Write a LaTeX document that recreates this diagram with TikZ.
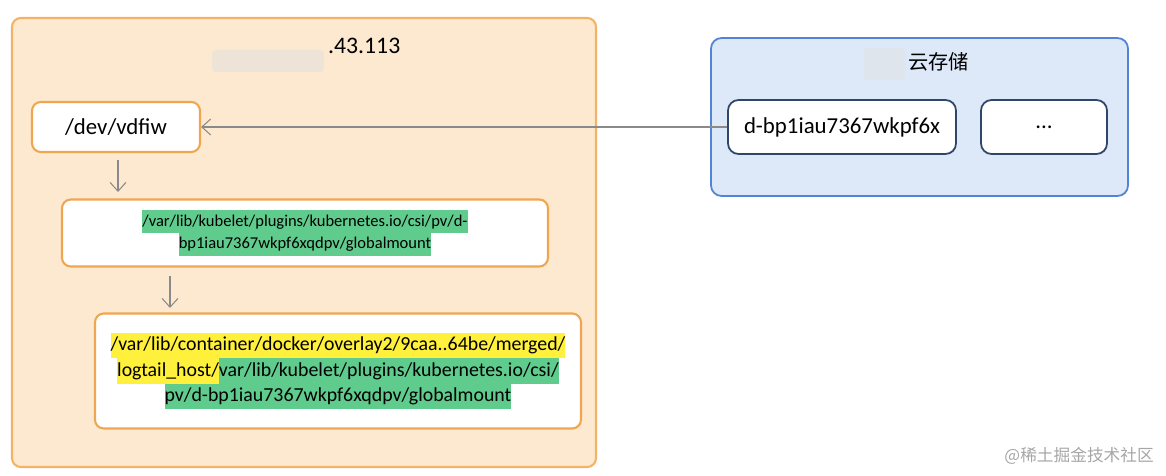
\documentclass[tikz,border=0pt]{standalone}
\usepackage{fontspec}
\setmainfont{Carlito}
\newfontfamily\cjk{Noto Sans CJK SC}
\usetikzlibrary{arrows.meta,positioning}
\definecolor{hostfill}{HTML}{FDE9D0}
\definecolor{hostline}{HTML}{F3B266}
\definecolor{pathline}{HTML}{F0A650}
\definecolor{cloudfill}{HTML}{DDE8F8}
\definecolor{cloudline}{HTML}{4F84D6}
\definecolor{diskline}{HTML}{2E4668}
\definecolor{pathgreen}{HTML}{5FCB8C}
\definecolor{pathyellow}{HTML}{FFF03C}
\definecolor{linkgray}{HTML}{8A8A8A}
\definecolor{blurpatch}{HTML}{EDE3D6}
\newcommand{\hlg}[1]{{\setlength{\fboxsep}{0pt}\colorbox{pathgreen}{\strut #1}}}
\newcommand{\hly}[1]{{\setlength{\fboxsep}{0pt}\colorbox{pathyellow}{\strut #1}}}

\begin{document}
\begin{tikzpicture}[x=0.02cm,y=-0.02cm,>={Straight Barb[length=5pt,width=9pt]}]
\tikzset{
  hostbox/.style={draw=hostline,fill=hostfill,line width=1.2pt,rounded corners=5pt},
  cloudbox/.style={draw=cloudline,fill=cloudfill,line width=1pt,rounded corners=6pt},
  pathbox/.style={draw=pathline,fill=white,line width=1.2pt,rounded corners=5pt,align=center,inner sep=0pt},
  diskbox/.style={draw=diskline,fill=white,line width=1pt,rounded corners=6pt,inner sep=0pt,font=\fontsize{13}{15}\selectfont},
  link/.style={->,draw=linkgray,line width=0.6pt}
}
\useasboundingbox (0,0) rectangle (1166,476);
% host
\draw[hostbox] (12,18) rectangle (596,467);
\fill[blurpatch,rounded corners=2pt] (212,50) rectangle (324,72);
\node[anchor=west,font=\fontsize{13.5}{16}\selectfont] (hostname) at (322,46) {.43.113};
\node[pathbox,minimum width=168*0.02cm,minimum height=50*0.02cm,font=\fontsize{13}{15}\selectfont] (dev) at (116,127) {/dev/vdfiw};
\node[pathbox,minimum width=486*0.02cm,minimum height=67*0.02cm,font=\fontsize{9.4}{13}\selectfont] (global) at (305,233)
  {\hlg{/var/lib/kubelet/plugins/kubernetes.io/csi/pv/d-}\\ \hlg{bp1iau7367wkpf6xqdpv/globalmount}};
\node[pathbox,minimum width=486*0.02cm,minimum height=115*0.02cm,font=\fontsize{11.3}{14.5}\selectfont] (merged) at (338,371)
  {\hly{/var/lib/container/docker/overlay2/9caa..64be/merged/}\\
   \hly{logtail\_host/}\hlg{var/lib/kubelet/plugins/kubernetes.io/csi/}\\
   \hlg{pv/d-bp1iau7367wkpf6xqdpv/globalmount}};
\coordinate (a1) at (118,160);
\coordinate (a2) at (118,192);
\coordinate (b1) at (170,276);
\coordinate (b2) at (170,308);
\draw[link] (a1) -- (a2);
\draw[link] (b1) -- (b2);
% cloud storage
\draw[cloudbox] (711,38) rectangle (1128,196);
\fill[cloudfill!80!gray!60,rounded corners=2pt] (864,48) rectangle (905,80);
\node[anchor=west,font=\cjk\fontsize{11.5}{14}\selectfont] (cloudname) at (902,62) {云存储};
\node[diskbox,minimum width=228*0.02cm,minimum height=54*0.02cm] (disk) at (842,127) {d-bp1iau7367wkpf6x};
\node[diskbox,minimum width=126*0.02cm,minimum height=54*0.02cm] (more) at (1044,127) {...};
\draw[link] (disk.west) -- (dev.east);
% watermark
\node[anchor=east,text=gray!70,font=\cjk\fontsize{9.5}{12}\selectfont] (mark) at (1160,456) {@稀土掘金技术社区};
\end{tikzpicture}
\end{document}
